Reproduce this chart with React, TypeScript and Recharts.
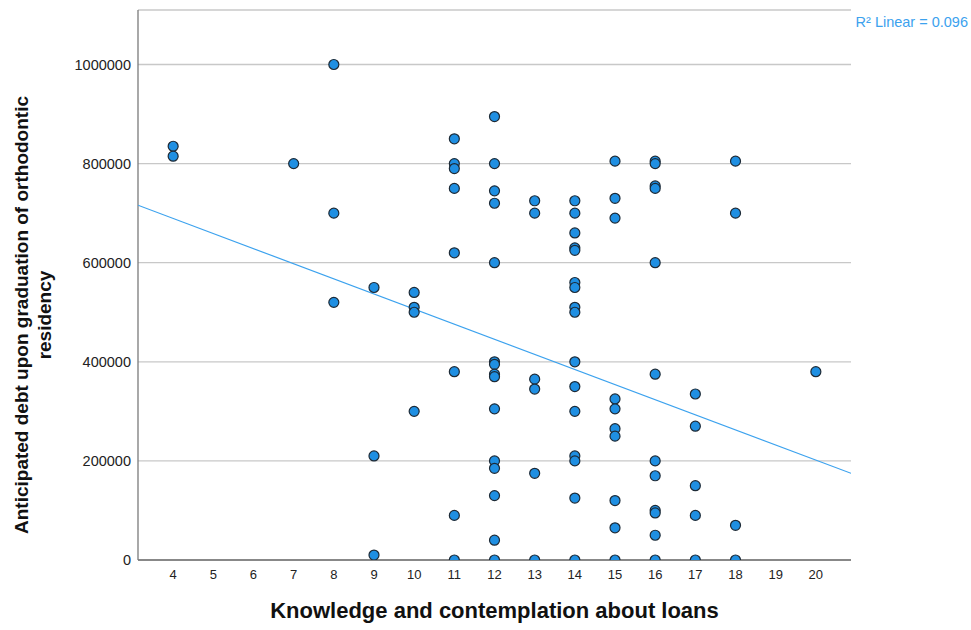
import { ScatterChart, Scatter, XAxis, YAxis, CartesianGrid } from 'recharts'

// knowledge score levels and the debts reported at each one
const scores = [4, 7, 8, 9, 10, 11, 12, 13, 14, 15, 16, 17, 18, 20]
const debts = [
  [835000, 815000],
  [800000],
  [1000000, 700000, 520000],
  [550000, 210000, 10000],
  [540000, 510000, 500000, 300000],
  [850000, 800000, 790000, 750000, 620000, 380000, 90000, 0],
  [895000, 800000, 745000, 720000, 600000, 400000, 395000, 375000, 370000, 305000, 200000, 185000, 130000, 40000, 0],
  [725000, 700000, 365000, 345000, 175000, 0],
  [725000, 700000, 660000, 630000, 625000, 560000, 550000, 510000, 500000, 400000, 350000, 300000, 210000, 200000, 125000, 0],
  [805000, 730000, 690000, 325000, 305000, 265000, 250000, 120000, 65000, 0],
  [805000, 800000, 755000, 750000, 600000, 375000, 200000, 170000, 100000, 95000, 50000, 0],
  [335000, 270000, 150000, 90000, 0],
  [805000, 700000, 70000, 0],
  [380000],
]

// fit line end points (read at the plot edges)
const fitX = [3.125, 20.875]
const fitY = [716000, 175000]

const xTicks = [4, 5, 6, 7, 8, 9, 10, 11, 12, 13, 14, 15, 16, 17, 18, 19, 20]
const yTicks = [0, 200000, 400000, 600000, 800000, 1000000]

const points = scores.flatMap((s, i) => debts[i].map(d => ({ x: s, y: d })))
const fitData = fitX.map((x, i) => ({ x, y: fitY[i] }))

const FONT = '"Liberation Sans", Arial, sans-serif'
const DOT = '#1f8fe2'
const FIT = '#3ca2ee'

const Dot = (props: any) => {
  const { cx, cy } = props
  if (cx == null || cy == null) return null
  return <circle cx={cx} cy={cy} r={5} fill={DOT} stroke="#1d2a36" strokeWidth={1.2} />
}

const YTitle = ({ viewBox }: any) => {
  const cx = 33
  const cy = viewBox ? viewBox.y + viewBox.height / 2 + 30 : 315
  return (
    <text
      transform={`rotate(-90, ${cx}, ${cy})`}
      x={cx}
      y={cy}
      textAnchor="middle"
      fontFamily={FONT}
      fontWeight="bold"
      fontSize={19}
      fill="#111"
    >
      <tspan x={cx} dy={-5}>Anticipated debt upon graduation of orthodontic</tspan>
      <tspan x={cx} dy={23}>residency</tspan>
    </text>
  )
}

export default function App() {
  return (
    <div style={{ width: 971, height: 630, background: '#fff', position: 'relative' }}>
      <style>{`body{margin:0}`}</style>
      <ScatterChart width={971} height={630} margin={{ top: 10, right: 120, bottom: 10, left: 0 }}>
        <CartesianGrid horizontal vertical={false} stroke="#c8c8c8" strokeWidth={1.3} />
        <XAxis
          type="number"
          dataKey="x"
          domain={[3.125, 20.875]}
          ticks={xTicks}
          interval={0}
          allowDataOverflow
          tickLine={false}
          tickMargin={4}
          axisLine={{ stroke: '#6e6e6e', strokeWidth: 1.3 }}
          height={60}
          tick={{ fill: '#222', fontSize: 13, fontFamily: FONT }}
          label={{
            value: 'Knowledge and contemplation about loans',
            position: 'insideBottom',
            offset: 2,
            fill: '#111',
            fontSize: 22,
            fontWeight: 'bold',
            fontFamily: FONT,
          }}
        />
        <YAxis
          type="number"
          dataKey="y"
          domain={[0, 1110000]}
          ticks={yTicks}
          interval={0}
          allowDataOverflow
          tickLine={false}
          tickMargin={1}
          axisLine={{ stroke: '#7a7a7a', strokeWidth: 1.3 }}
          width={138}
          tick={{ fill: '#222', fontSize: 14.5, fontFamily: FONT }}
          label={<YTitle />}
        />
        <Scatter
          data={fitData}
          line={{ stroke: FIT, strokeWidth: 1.2 }}
          shape={() => null}
          isAnimationActive={false}
        />
        <Scatter data={points} shape={<Dot />} isAnimationActive={false} />
      </ScatterChart>
      <div
        style={{
          position: 'absolute',
          right: 3,
          top: 14,
          color: FIT,
          fontFamily: FONT,
          fontSize: 14.5,
          lineHeight: '16px',
        }}
      >
        R² Linear = 0.096
      </div>
    </div>
  )
}
